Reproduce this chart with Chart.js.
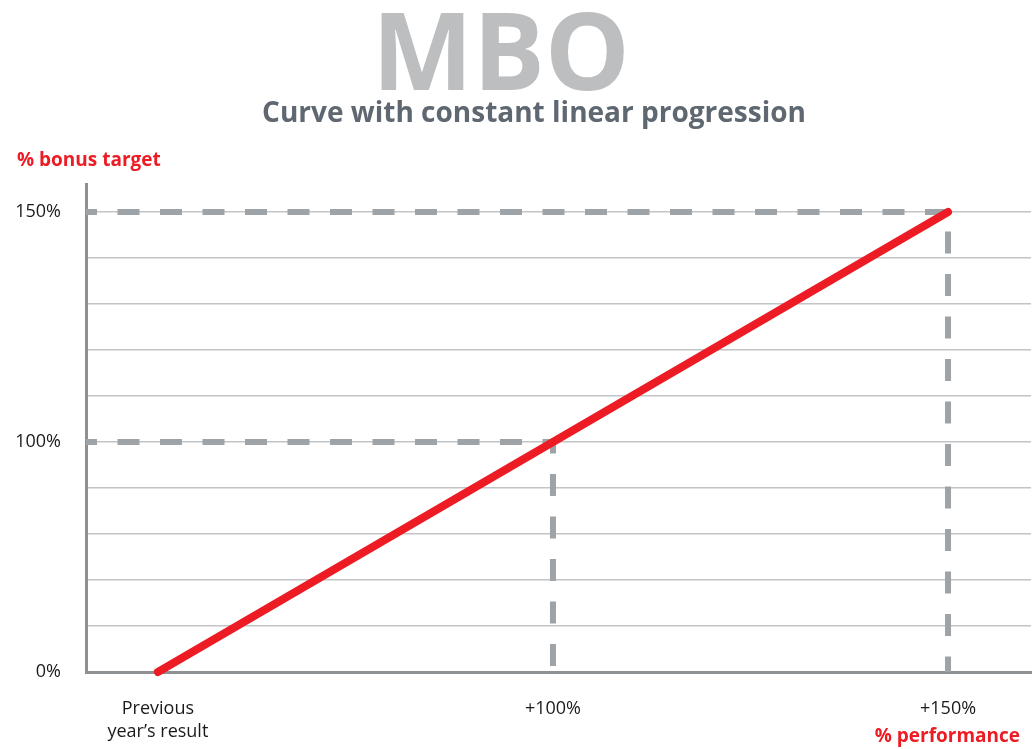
<!DOCTYPE html>
<html lang="en">
<head>
  <meta charset="UTF-8">
  <title>MBO - Curve with constant linear progression</title>
  <style>
    html, body { margin: 0; padding: 0; background: #fff; }
    canvas { display: block; }
  </style>
  <script src="https://cdn.jsdelivr.net/npm/chart.js"></script>
</head>
<body>

<canvas id="mboChart" width="1035" height="749"></canvas>

<script>
  // categories on the x axis (% performance)
  const performance = [['Previous', 'year\u2019s result'], '+100%', '+150%'];
  // % bonus target reached at each performance point
  const bonusTarget = [0, 100, 150];
  // y axis tick labels, one per gridline from bottom to top
  const yTickLabels = ['0%', '', '', '', '', '100%', '', '', '', '', '150%'];

  const RED = '#ed1c24';
  const GUIDE = '#9ea3a7';
  const FONT = "'Open Sans', 'Noto Sans', sans-serif";

  const xMin = -0.182, xMax = 2.21;
  const yMax = 10.61;

  // the y axis is stepped by gridline, so look up each value's row
  const rowOf = v => yTickLabels.indexOf(v + '%');

  const curve = bonusTarget.map((v, i) => ({ x: i, y: rowOf(v) }));

  // dashed guides from the axes to the +100% and +150% points
  const guides = [1, 2].map(i => ({
    data: [{ x: xMin, y: rowOf(bonusTarget[i]) }, { x: i, y: rowOf(bonusTarget[i]) }, { x: i, y: 0 }],
    borderColor: GUIDE,
    borderWidth: 6,
    borderDash: [22, 20.5],
    borderDashOffset: 11,
    pointRadius: 0,
    fill: false,
    clip: false
  }));

  // headings and axis names, placed around the chart area
  const headings = {
    id: 'headings',
    afterDraw(chart) {
      const { ctx, chartArea } = chart;
      ctx.save();
      ctx.textBaseline = 'alphabetic';
      ctx.textAlign = 'center';
      ctx.fillStyle = '#bcbec0';
      ctx.font = "bold 107px " + FONT;
      ctx.fillText('MBO', 501, 90);
      ctx.fillStyle = '#5f6770';
      ctx.font = "bold 28px " + FONT;
      ctx.fillText('Curve with constant linear progression', 534, 122);

      ctx.fillStyle = RED;
      ctx.font = "bold 19px " + FONT;
      ctx.textAlign = 'left';
      ctx.fillText('% bonus target', chartArea.left - 69, chartArea.top - 18);
      ctx.textAlign = 'right';
      ctx.fillText('% performance', chartArea.right - 11, chartArea.bottom + 70);
      ctx.restore();
    }
  };

  new Chart(document.getElementById('mboChart'), {
    type: 'line',
    data: {
      datasets: [
        {
          data: curve,
          borderColor: RED,
          borderWidth: 8,
          borderCapStyle: 'round',
          pointRadius: 0,
          fill: false,
          clip: false
        },
        ...guides
      ]
    },
    options: {
      responsive: false,
      animation: false,
      layout: { padding: { left: 0, right: 4, top: 184, bottom: 0 } },
      plugins: {
        legend: { display: false },
        tooltip: { enabled: false }
      },
      scales: {
        x: {
          type: 'linear',
          min: xMin,
          max: xMax,
          afterFit: s => { s.height = 77; },
          afterBuildTicks: s => { s.ticks = performance.map((_, i) => ({ value: i })); },
          grid: { display: false, drawTicks: false },
          border: { color: '#8e9194', width: 3 },
          ticks: {
            padding: 25,
            color: '#1a1a1a',
            maxRotation: 0,
            font: { family: FONT, size: 18, lineHeight: 1.3 },
            callback: v => performance[v]
          }
        },
        y: {
          type: 'linear',
          min: 0,
          max: yMax,
          afterFit: s => { s.width = 86; },
          afterBuildTicks: s => { s.ticks = yTickLabels.map((_, i) => ({ value: i })); },
          grid: { color: '#c2c4c6', lineWidth: 1.5, drawTicks: false },
          border: { color: '#8e9194', width: 3 },
          ticks: {
            padding: 25,
            color: '#1a1a1a',
            font: { family: FONT, size: 18 },
            callback: v => yTickLabels[v]
          }
        }
      }
    },
    plugins: [headings]
  });
</script>

</body>
</html>
